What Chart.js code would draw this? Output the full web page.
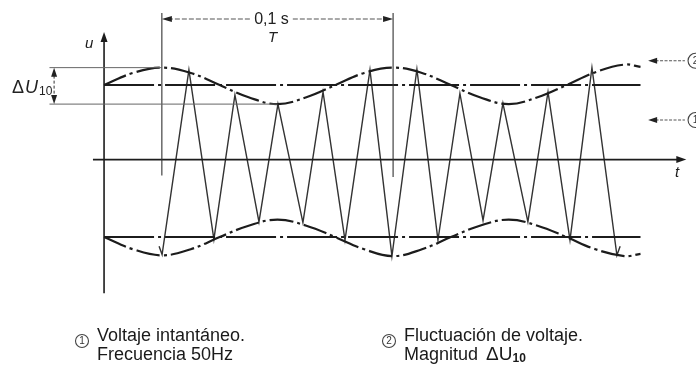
<!DOCTYPE html>
<html>
<head>
<meta charset="utf-8">
<script src="https://cdn.jsdelivr.net/npm/chart.js@4/dist/chart.umd.min.js"></script>
<style>
  html, body { margin: 0; padding: 0; background: #fff; }
  #wrap { width: 696px; height: 369px; position: relative; }
</style>
</head>
<body>
<div id="wrap"><canvas id="c"></canvas></div>
<script>
// Envelope of the fluctuating voltage (time in s, level in per-unit)
const envTimes = [0, 0.0125, 0.025, 0.0375, 0.05, 0.0625, 0.075, 0.0875, 0.1, 0.1125,
                  0.125, 0.1375, 0.15, 0.1625, 0.175, 0.1875, 0.2, 0.2125, 0.225, 0.232];
const envUpper = [0.98, 1.14, 1.21, 1.14, 0.98, 0.82, 0.73, 0.82, 0.98, 1.14,
                  1.21, 1.14, 0.98, 0.82, 0.73, 0.82, 0.98, 1.15, 1.25, 1.22];
const envLower = [-1.02, -1.18, -1.26, -1.18, -1.02, -0.87, -0.79, -0.87, -1.02, -1.18,
                  -1.27, -1.18, -1.02, -0.87, -0.79, -0.87, -1.02, -1.18, -1.27, -1.24];

// Mean (unmodulated) amplitude lines
const meanUpper = 0.98;
const meanLower = -1.02;
const meanSpan = [0, 0.232];

// Instantaneous voltage: successive 50 Hz half-wave peaks
const waveTimes = [0.0238, 0.0251, 0.0367, 0.0475, 0.0566, 0.0670, 0.0752, 0.0860, 0.0947, 0.1042,
                   0.1150, 0.1245, 0.1353, 0.1444, 0.1539, 0.1639, 0.1725, 0.1833, 0.1920,
                   0.2015, 0.2110, 0.2218, 0.2232];
const waveValues = [-1.14, -1.25, 1.18, -1.05, 0.85, -0.82, 0.73, -0.83, 0.89, -1.06,
                    1.18, -1.27, 1.19, -1.06, 0.87, -0.80, 0.74, -0.82, 0.89,
                    -1.06, 1.21, -1.26, -1.14];

// Dimensions and labels
const periodSpan = [0.025, 0.125];   // T = 0.1 s
const periodLabel = '0,1 s';
const deltaLevels = [1.21, 0.73];    // ΔU10 band
const legendItems = [
  { num: '1', lines: ['Voltaje intantáneo.', 'Frecuencia 50Hz'] },
  { num: '2', lines: ['Fluctuación de voltaje.', 'Magnitud'] }
];

const pts = (xs, ys) => xs.map((t, i) => ({ x: t, y: ys[i] }));
const INK = '#1c1c1c';
const DASHDOT_CURVE = [24, 4, 3, 4];
const DASHDOT_LINE = [50, 4, 3, 4];

function arrowHead(ctx, x1, y1, x2, y2, len, half) {
  const a = Math.atan2(y2 - y1, x2 - x1);
  ctx.beginPath();
  ctx.moveTo(x2, y2);
  ctx.lineTo(x2 - len * Math.cos(a) + half * Math.sin(a), y2 - len * Math.sin(a) - half * Math.cos(a));
  ctx.lineTo(x2 - len * Math.cos(a) - half * Math.sin(a), y2 - len * Math.sin(a) + half * Math.cos(a));
  ctx.closePath();
  ctx.fill();
}

function circledDigit(ctx, cx, cy, r, d) {
  ctx.save();
  ctx.setLineDash([]);
  ctx.lineWidth = 1.1;
  ctx.strokeStyle = '#444';
  ctx.beginPath();
  ctx.arc(cx, cy, r, 0, Math.PI * 2);
  ctx.stroke();
  ctx.fillStyle = '#333';
  ctx.font = '10px "Liberation Sans", Arial, sans-serif';
  ctx.textAlign = 'center';
  ctx.textBaseline = 'middle';
  ctx.fillText(d, cx, cy + 0.5);
  ctx.restore();
}

const overlay = {
  id: 'overlay',
  afterDatasetsDraw(chart) {
    const { ctx, scales: { x, y } } = chart;
    const X = v => x.getPixelForValue(v);
    const Y = v => y.getPixelForValue(v);
    ctx.save();
    ctx.strokeStyle = INK;
    ctx.fillStyle = INK;

    // u axis
    const x0 = X(0);
    ctx.lineWidth = 1.6;
    ctx.beginPath();
    ctx.moveTo(x0, Y(-1.76));
    ctx.lineTo(x0, Y(1.62));
    ctx.stroke();
    arrowHead(ctx, x0, Y(0), x0, Y(1.68), 10, 3.5);

    // t axis
    const y0 = Y(0);
    ctx.beginPath();
    ctx.moveTo(X(-0.0048), y0);
    ctx.lineTo(X(0.248), y0);
    ctx.stroke();
    arrowHead(ctx, X(0), y0, X(0.2518), y0, 10, 3.5);

    ctx.font = 'italic 15px "Liberation Sans", Arial, sans-serif';
    ctx.textAlign = 'center';
    ctx.textBaseline = 'middle';
    ctx.fillText('u', x0 - 15, Y(1.52));
    ctx.fillText('t', X(0.2478), Y(-0.18));

    // Period T dimension
    const xa = X(periodSpan[0]), xb = X(periodSpan[1]);
    const yDim = Y(1.85);
    ctx.lineWidth = 1.1;
    ctx.strokeStyle = '#333';
    ctx.beginPath();
    ctx.moveTo(xa, Y(1.93)); ctx.lineTo(xa, Y(-0.21));
    ctx.moveTo(xb, Y(1.93)); ctx.lineTo(xb, Y(-0.23));
    ctx.stroke();
    ctx.font = '16px "Liberation Sans", Arial, sans-serif';
    const tw = ctx.measureText(periodLabel).width;
    const xm = (xa + xb) / 2 - 6;
    ctx.setLineDash([5, 2]);
    ctx.strokeStyle = '#555';
    ctx.beginPath();
    ctx.moveTo(xa + 6, yDim); ctx.lineTo(xm - tw / 2 - 4, yDim);
    ctx.moveTo(xm + tw / 2 + 4, yDim); ctx.lineTo(xb - 6, yDim);
    ctx.stroke();
    ctx.setLineDash([]);
    ctx.fillStyle = '#222';
    arrowHead(ctx, xa + 20, yDim, xa, yDim, 10, 3);
    arrowHead(ctx, xb - 20, yDim, xb, yDim, 10, 3);
    ctx.fillText(periodLabel, xm, yDim + 1);
    ctx.font = 'italic 15px "Liberation Sans", Arial, sans-serif';
    ctx.fillText('T', xm + 1, Y(1.6));

    // ΔU10 band
    const xd = X(-0.0216);
    const yt = Y(deltaLevels[0]), yb = Y(deltaLevels[1]);
    ctx.lineWidth = 1;
    ctx.strokeStyle = '#666';
    ctx.beginPath();
    ctx.moveTo(X(-0.0236), yt); ctx.lineTo(X(0.025), yt);
    ctx.moveTo(X(-0.0236), yb); ctx.lineTo(X(0.075), yb);
    ctx.stroke();
    ctx.strokeStyle = '#333';
    ctx.setLineDash([3, 2]);
    ctx.beginPath();
    ctx.moveTo(xd, yt + 8); ctx.lineTo(xd, yb - 8);
    ctx.stroke();
    ctx.setLineDash([]);
    ctx.fillStyle = '#222';
    arrowHead(ctx, xd, yt + 20, xd, yt, 9, 3);
    arrowHead(ctx, xd, yb - 20, xd, yb, 9, 3);

    const ym = (yt + yb) / 2;
    ctx.textAlign = 'left';
    ctx.textBaseline = 'alphabetic';
    ctx.font = '18px "Liberation Sans", Arial, sans-serif';
    ctx.fillText('Δ', 12, ym + 7);
    ctx.font = 'italic 18px "Liberation Sans", Arial, sans-serif';
    ctx.fillText('U', 25, ym + 7);
    ctx.font = '12px "Liberation Sans", Arial, sans-serif';
    ctx.fillText('10', 39, ym + 9);

    // Pointers to curve labels at the right
    ctx.strokeStyle = '#555';
    ctx.fillStyle = '#222';
    ctx.lineWidth = 1.1;
    [[1.30, '2'], [0.52, '1']].forEach(([v, d]) => {
      const yy = Y(v);
      ctx.setLineDash([3, 1.5]);
      ctx.beginPath();
      ctx.moveTo(X(0.2385), yy); ctx.lineTo(X(0.2512), yy);
      ctx.stroke();
      ctx.setLineDash([]);
      arrowHead(ctx, X(0.245), yy, X(0.2353), yy, 9, 3);
      circledDigit(ctx, X(0.2558), yy, 7.5, d);
    });

    // Key below the chart
    const keyX = [97, 404];
    legendItems.forEach((item, i) => {
      circledDigit(ctx, keyX[i] - 15, 341, 6.5, item.num);
      ctx.fillStyle = '#1a1a1a';
      ctx.textAlign = 'left';
      ctx.textBaseline = 'middle';
      ctx.font = '18px "Liberation Sans", Arial, sans-serif';
      ctx.fillText(item.lines[0], keyX[i], 336);
      ctx.fillText(item.lines[1], keyX[i], 355);
    });
    // ΔU10 symbol after "Magnitud"
    ctx.font = '18px "Liberation Sans", Arial, sans-serif';
    const mw = ctx.measureText(legendItems[1].lines[1]).width;
    ctx.font = '19px "Liberation Sans", Arial, sans-serif';
    const sx = keyX[1] + mw + 8;
    ctx.fillText('ΔU', sx, 355);
    const dw = ctx.measureText('ΔU').width;
    ctx.font = 'bold 12px "Liberation Sans", Arial, sans-serif';
    ctx.fillText('10', sx + dw, 359);

    ctx.restore();
  }
};

new Chart(document.getElementById('c'), {
  type: 'line',
  data: {
    datasets: [
      { data: pts(envTimes, envUpper), borderColor: INK, borderWidth: 2.2, borderDash: DASHDOT_CURVE, tension: 0.4 },
      { data: pts(envTimes, envLower), borderColor: INK, borderWidth: 2.2, borderDash: DASHDOT_CURVE, tension: 0.4 },
      { data: pts(meanSpan, [meanUpper, meanUpper]), borderColor: INK, borderWidth: 2, borderDash: DASHDOT_LINE },
      { data: pts(meanSpan, [meanLower, meanLower]), borderColor: INK, borderWidth: 2, borderDash: DASHDOT_LINE },
      { data: pts(waveTimes, waveValues), borderColor: '#333', borderWidth: 1.4, tension: 0 }
    ]
  },
  options: {
    responsive: true,
    maintainAspectRatio: false,
    animation: false,
    layout: { padding: 0 },
    elements: { point: { radius: 0 } },
    plugins: { legend: { display: false }, tooltip: { enabled: false } },
    scales: {
      x: { type: 'linear', min: -0.045, max: 0.256, display: false },
      y: { type: 'linear', min: -2.756, max: 2.1, display: false }
    }
  },
  plugins: [overlay]
});
</script>
</body>
</html>
